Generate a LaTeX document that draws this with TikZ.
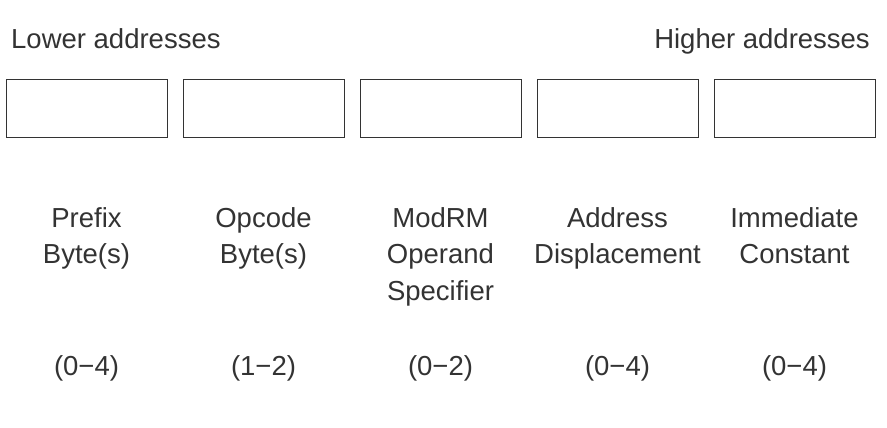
\documentclass[tikz,border=0pt]{standalone}
\usepackage{fontspec}
\setmainfont{Liberation Sans}
\definecolor{ink}{HTML}{333333}
\begin{document}
\begin{tikzpicture}[x=1pt,y=-1pt,
  field/.style={draw=ink, line width=1.3pt, minimum width=161pt, minimum height=58pt, inner sep=0pt, anchor=north west},
  txt/.style={font=\fontsize{27.5}{36.5}\selectfont, text=ink, inner sep=0pt},
  lbl/.style={txt, align=center, anchor=base}]
\useasboundingbox (0,0) rectangle (887,428);
\node[txt, anchor=base west] (low) at (11,49) {Lower addresses};
\node[txt, anchor=base east] (high) at (870,49) {Higher addresses};
\foreach \i/\x in {1/6,2/183,3/360,4/537,5/714}{
  \node[field] (b\i) at (\x,79) {};
}
% base anchor of a multi-line node sits on its last line
\node[lbl] (l1) at (86.5,263.5) {Prefix\\Byte(s)};
\node[lbl] (l2) at (263.5,263.5) {Opcode\\Byte(s)};
\node[lbl] (l3) at (440.5,300) {ModRM\\Operand\\Specifier};
\node[lbl] (l4) at (617.5,263.5) {Address\\Displacement};
\node[lbl] (l5) at (794.5,263.5) {Immediate\\Constant};
\node[lbl] (r1) at (86.5,375) {(0\textminus4)};
\node[lbl] (r2) at (263.5,375) {(1\textminus2)};
\node[lbl] (r3) at (440.5,375) {(0\textminus2)};
\node[lbl] (r4) at (617.5,375) {(0\textminus4)};
\node[lbl] (r5) at (794.5,375) {(0\textminus4)};
\end{tikzpicture}
\end{document}
